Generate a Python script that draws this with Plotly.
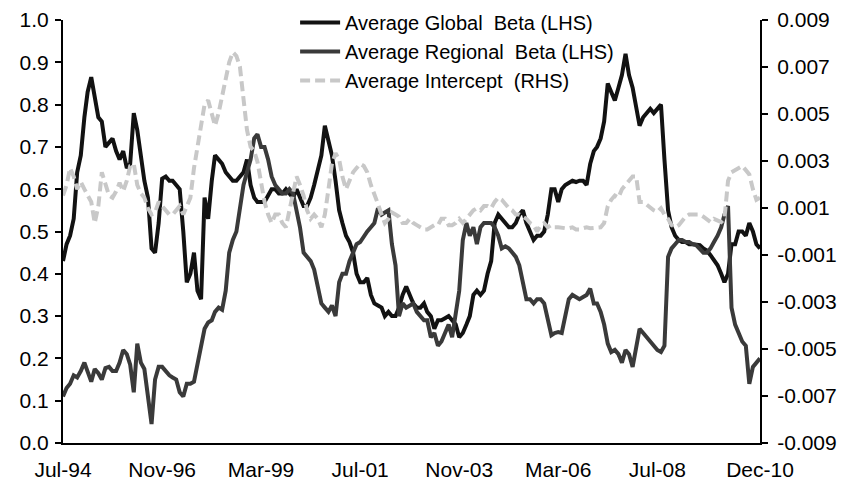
import pandas as pd
import plotly.graph_objects as go

# monthly observations, Jul-94 .. Dec-10
dates = pd.date_range("1994-07-31", periods=198, freq="ME")

global_beta = [
    0.43, 0.47, 0.49, 0.53, 0.64, 0.68, 0.77, 0.83, 0.865, 0.82,
    0.77, 0.76, 0.70, 0.71, 0.72, 0.69, 0.67, 0.69, 0.65, 0.66,
    0.78, 0.74, 0.67, 0.62, 0.58, 0.46, 0.45, 0.52, 0.625, 0.63,
    0.62, 0.62, 0.61, 0.60, 0.50, 0.38, 0.40, 0.45, 0.36, 0.34,
    0.58, 0.53, 0.62, 0.68, 0.67, 0.66, 0.64, 0.63, 0.62, 0.62,
    0.63, 0.64, 0.67, 0.61, 0.58, 0.57, 0.57, 0.57, 0.585, 0.60,
    0.60, 0.59, 0.59, 0.60, 0.59, 0.58, 0.60, 0.58, 0.56, 0.56,
    0.58, 0.61, 0.65, 0.68, 0.75, 0.71, 0.68, 0.62, 0.55, 0.52,
    0.49, 0.475, 0.45, 0.40, 0.38, 0.38, 0.39, 0.35, 0.33, 0.325,
    0.32, 0.30, 0.31, 0.30, 0.30, 0.32, 0.35, 0.37, 0.35, 0.33,
    0.32, 0.32, 0.33, 0.31, 0.30, 0.27, 0.29, 0.29, 0.295, 0.30,
    0.29, 0.28, 0.25, 0.26, 0.28, 0.30, 0.35, 0.36, 0.35, 0.36,
    0.40, 0.43, 0.52, 0.54, 0.53, 0.52, 0.51, 0.51, 0.52, 0.54,
    0.55, 0.52, 0.50, 0.48, 0.49, 0.49, 0.50, 0.54, 0.60, 0.60,
    0.57, 0.60, 0.61, 0.615, 0.62, 0.617, 0.62, 0.62, 0.61, 0.66,
    0.69, 0.70, 0.72, 0.76, 0.85, 0.83, 0.81, 0.84, 0.87, 0.92,
    0.87, 0.84, 0.79, 0.75, 0.77, 0.78, 0.79, 0.78, 0.79, 0.80,
    0.67, 0.55, 0.51, 0.49, 0.48, 0.475, 0.475, 0.47, 0.47, 0.468,
    0.468, 0.46, 0.455, 0.444, 0.43, 0.42, 0.40, 0.38, 0.40, 0.47,
    0.47, 0.50, 0.50, 0.49, 0.52, 0.50, 0.47, 0.46,
]

regional_beta = [
    0.11, 0.13, 0.14, 0.16, 0.155, 0.17, 0.19, 0.165, 0.145, 0.175,
    0.165, 0.15, 0.177, 0.18, 0.17, 0.17, 0.19, 0.22, 0.21, 0.185,
    0.12, 0.235, 0.19, 0.175, 0.10, 0.045, 0.15, 0.18, 0.18, 0.17,
    0.16, 0.155, 0.15, 0.12, 0.11, 0.14, 0.14, 0.145, 0.19, 0.23,
    0.27, 0.285, 0.29, 0.31, 0.32, 0.315, 0.36, 0.45, 0.48, 0.50,
    0.56, 0.61, 0.64, 0.67, 0.72, 0.73, 0.70, 0.70, 0.67, 0.63,
    0.61, 0.60, 0.59, 0.59, 0.60, 0.59, 0.55, 0.51, 0.45, 0.44,
    0.43, 0.41, 0.37, 0.33, 0.32, 0.31, 0.325, 0.30, 0.38, 0.40,
    0.40, 0.43, 0.45, 0.47, 0.475, 0.49, 0.50, 0.51, 0.52, 0.555,
    0.54, 0.545, 0.55, 0.47, 0.42, 0.30, 0.33, 0.32, 0.325, 0.33,
    0.31, 0.30, 0.29, 0.29, 0.25, 0.26, 0.23, 0.24, 0.26, 0.28,
    0.25, 0.31, 0.36, 0.48, 0.52, 0.49, 0.51, 0.47, 0.51, 0.52,
    0.52, 0.52, 0.51, 0.49, 0.46, 0.465, 0.46, 0.45, 0.44, 0.42,
    0.38, 0.34, 0.34, 0.33, 0.34, 0.34, 0.33, 0.29, 0.255, 0.26,
    0.262, 0.26, 0.30, 0.34, 0.35, 0.345, 0.34, 0.345, 0.35, 0.365,
    0.33, 0.33, 0.31, 0.28, 0.235, 0.215, 0.22, 0.21, 0.19, 0.22,
    0.21, 0.18, 0.23, 0.27, 0.26, 0.25, 0.24, 0.23, 0.22, 0.215,
    0.23, 0.44, 0.46, 0.47, 0.48, 0.48, 0.475, 0.475, 0.47, 0.468,
    0.46, 0.45, 0.45, 0.46, 0.475, 0.49, 0.51, 0.54, 0.56, 0.32,
    0.28, 0.26, 0.24, 0.23, 0.14, 0.18, 0.19, 0.20,
]

intercept = [
    0.00153, 0.00198, 0.0027, 0.00234, 0.0018, 0.00211, 0.0018, 0.00153, 0.00126, 0.00036,
    0.00108, 0.00252, 0.00198, 0.00153, 0.00144, 0.00171, 0.00207, 0.00171, 0.00216, 0.00279,
    0.00288, 0.00198, 0.00162, 0.00144, 0.00099, 0.00072, 0.00081, 0.00126, 0.00108, 0.0009,
    0.00072, 0.00072, 0.0009, 0.00108, 0.00072, 0.00108, 0.00144, 0.0027, 0.0036, 0.0045,
    0.0054, 0.00558, 0.00495, 0.0045, 0.00504, 0.00576, 0.00666, 0.0072, 0.00763, 0.00747,
    0.00702, 0.00576, 0.00432, 0.0036, 0.00342, 0.00297, 0.00216, 0.00126, 0.00072, 0.00036,
    0.00072, 0.00072, 0.00036, 0.00018, 0.0009, 0.00162, 0.00234, 0.00198, 0.00153, 0.0009,
    0.00054, 0.00072, 0.00054, 0.00018, 0.00072, 0.0018, 0.00288, 0.00333, 0.00306, 0.00234,
    0.0018, 0.00216, 0.00252, 0.0027, 0.00288, 0.00279, 0.00252, 0.00198, 0.00162, 0.00117,
    0.00072, 0.00036, 0.00054, 0.00081, 0.00072, 0.00063, 0.00036, 0.00036, 0.00054, 0.00036,
    0.00027, 0.00018, 0.00009, 0.00009, 0.00018, 0.00027, 0.00027, 0.00054, 0.00054, 0.00027,
    0.00027, 0.00036, 0.00054, 0.00036, 0.00054, 0.00072, 0.0009, 0.00099, 0.0009, 0.00108,
    0.00108, 0.00099, 0.00126, 0.00144, 0.00135, 0.00117, 0.00099, 0.0009, 0.00072, 0.00072,
    0.00063, 0.00054, 0.00036, 0.00027, 0.0, 0.00027, 0.00036, 0.00018, 0.00027, 0.00018,
    0.00018, 0.00014, 0.00014, 0.00014, 0.00018, 0.00009, 0.00009, 0.00014, 0.00018, 0.00014,
    0.00014, 0.00014, 0.00018, 0.00036, 0.00108, 0.00135, 0.00153, 0.00144, 0.0018, 0.00198,
    0.00216, 0.00234, 0.00234, 0.00126, 0.00126, 0.00113, 0.00099, 0.0009, 0.00083, 0.00099,
    0.00072, 0.00054, 0.00027, 0.00018, 0.00027, 0.00045, 0.00063, 0.00072, 0.00072, 0.00072,
    0.00072, 0.00063, 0.00054, 0.0004, 0.00054, 0.00045, 0.0004, 0.00054, 0.00216, 0.00252,
    0.00261, 0.0027, 0.00279, 0.00261, 0.00243, 0.0018, 0.00135, 0.00144,
]

tick_dates = ["1994-07-31", "1996-11-30", "1999-03-31", "2001-07-31",
              "2003-11-30", "2006-03-31", "2008-07-31", "2010-12-31"]
tick_labels = ["Jul-94", "Nov-96", "Mar-99", "Jul-01", "Nov-03", "Mar-06", "Jul-08", "Dec-10"]

rhs_ticks = [-0.009, -0.007, -0.005, -0.003, -0.001, 0.001, 0.003, 0.005, 0.007, 0.009]
rhs_labels = ["-0.009", "-0.007", "-0.005", "-0.003", "-0.001",
              "0.001", "0.003", "0.005", "0.007", "0.009"]

fig = go.Figure()
fig.add_trace(go.Scatter(x=dates, y=global_beta, mode="lines",
                         name="Average Global  Beta (LHS)",
                         line=dict(color="#121212", width=4)))
fig.add_trace(go.Scatter(x=dates, y=regional_beta, mode="lines",
                         name="Average Regional  Beta (LHS)",
                         line=dict(color="#3a3a3a", width=4)))
fig.add_trace(go.Scatter(x=dates, y=intercept, mode="lines", yaxis="y2",
                         name="Average Intercept  (RHS)",
                         line=dict(color="#c8c8c8", width=4, dash="10px,5px")))

# page body adds an 8px offset, so the figure is 8px smaller each way
fig.update_layout(
    width=838, height=481,
    margin=dict(l=55, r=86, t=12, b=46, autoexpand=False),
    plot_bgcolor="white", paper_bgcolor="white",
    font=dict(family="Liberation Sans, Arial, sans-serif", size=21, color="black"),
    showlegend=True,
    legend=dict(x=0.333, y=1.04, xanchor="left", yanchor="top",
                bgcolor="rgba(0,0,0,0)", font=dict(size=20), itemwidth=40),
    xaxis=dict(range=[dates[0], dates[-1]], tickvals=tick_dates, ticktext=tick_labels,
               showline=True, linecolor="black", linewidth=2, ticks="",
               ticklabelstandoff=7,
               showgrid=False, zeroline=False),
    yaxis=dict(range=[0, 1], dtick=0.1, tickformat=".1f",
               showline=True, linecolor="black", linewidth=2,
               ticks="outside", ticklen=6, tickwidth=1.5, tickcolor="black",
               ticklabelstandoff=2,
               showgrid=False, zeroline=False),
    yaxis2=dict(overlaying="y", side="right", range=[-0.009, 0.009],
                tickvals=rhs_ticks, ticktext=rhs_labels,
                showline=True, linecolor="black", linewidth=2,
                ticks="outside", ticklen=6, tickwidth=1.5, tickcolor="black",
                ticklabelstandoff=5,
                showgrid=False, zeroline=False),
)

fig.write_html("out.html")
